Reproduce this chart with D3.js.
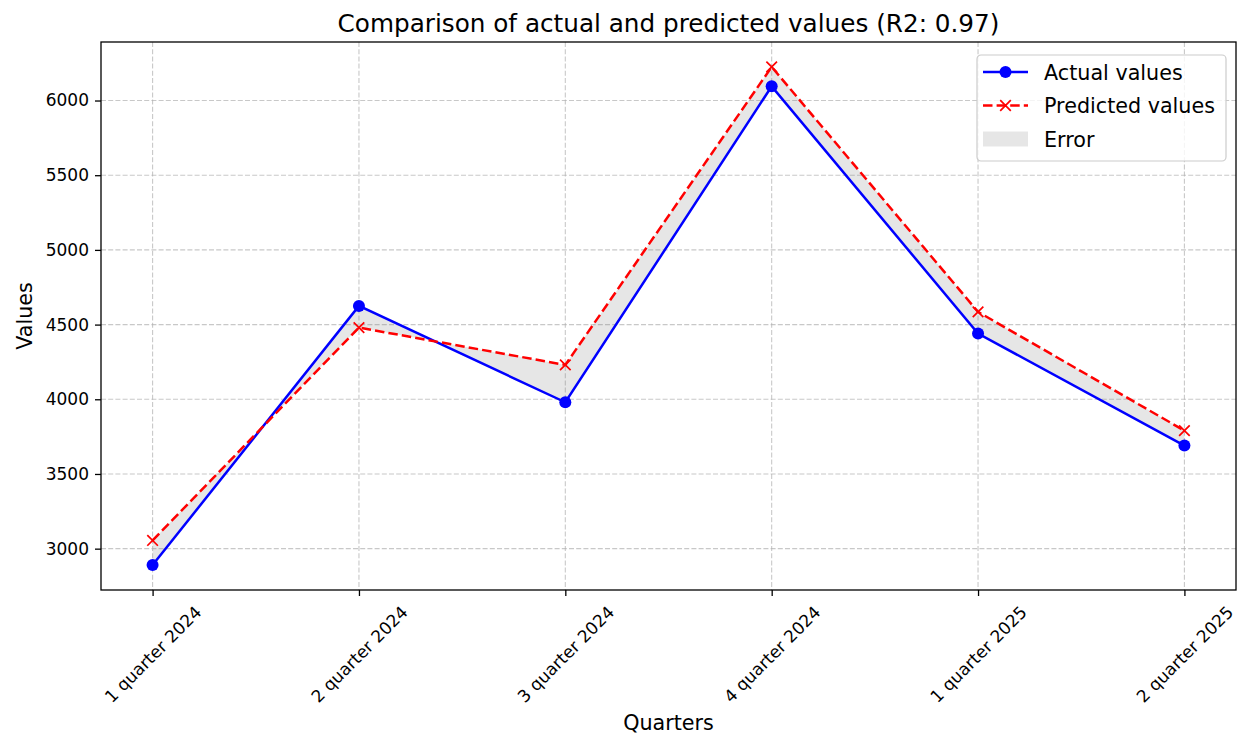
<!DOCTYPE html>
<html>
<head>
<meta charset="utf-8">
<script src="https://cdn.jsdelivr.net/npm/d3@7"></script>
<style>
  body { margin: 0; background: #fff; }
  svg { font-family: "DejaVu Sans", sans-serif; }
</style>
</head>
<body>
<div id="chart"></div>
<script>
const quarters = ['1 quarter 2024', '2 quarter 2024', '3 quarter 2024', '4 quarter 2024', '1 quarter 2025', '2 quarter 2025'];
const actualValues = [2890, 4625, 3980, 6095, 4440, 3690];
const predictedValues = [3055, 4480, 4230, 6225, 4585, 3790];
const yTicks = [3000, 3500, 4000, 4500, 5000, 5500, 6000];

const W = 1241, H = 735;
const margin = { top: 42, right: 5, bottom: 145, left: 101 };
const width = W - margin.left - margin.right,
    height = H - margin.top - margin.bottom;
const FONT = '"DejaVu Sans", sans-serif';

const svg = d3.select('#chart').append('svg')
    .attr('width', W)
    .attr('height', H);

const g = svg.append('g')
    .attr('transform', 'translate(' + margin.left + ',' + margin.top + ')');

// matplotlib style 5% padding on both axes
const n = quarters.length;
const xScale = d3.scaleLinear().domain([-0.25, n - 1 + 0.25]).range([0, width]);
const allVals = actualValues.concat(predictedValues);
const lo = d3.min(allVals), hi = d3.max(allVals), pad = (hi - lo) * 0.05;
const yScale = d3.scaleLinear().domain([lo - pad, hi + pad]).range([height, 0]);

// grid
g.append('g')
    .selectAll('line')
    .data(yTicks)
    .enter().append('line')
    .attr('x1', 0).attr('x2', width)
    .attr('y1', d => yScale(d)).attr('y2', d => yScale(d))
    .attr('stroke', '#b0b0b0').attr('stroke-opacity', 0.7)
    .attr('stroke-dasharray', '5,2.2').attr('stroke-width', 1.1);

g.append('g')
    .selectAll('line')
    .data(d3.range(n))
    .enter().append('line')
    .attr('x1', d => xScale(d)).attr('x2', d => xScale(d))
    .attr('y1', 0).attr('y2', height)
    .attr('stroke', '#b0b0b0').attr('stroke-opacity', 0.7)
    .attr('stroke-dasharray', '5,2.2').attr('stroke-width', 1.1);

// error area
const area = d3.area()
    .x((d, i) => xScale(i))
    .y0((d, i) => yScale(actualValues[i]))
    .y1((d, i) => yScale(predictedValues[i]));

g.append('path')
    .datum(quarters)
    .attr('d', area)
    .attr('fill', '#808080')
    .attr('fill-opacity', 0.2);

const line = d3.line().x((d, i) => xScale(i)).y(d => yScale(d));

// actual
g.append('path')
    .datum(actualValues)
    .attr('d', line)
    .attr('fill', 'none')
    .attr('stroke', 'blue')
    .attr('stroke-width', 2.5);

g.selectAll('.dot')
    .data(actualValues)
    .enter().append('circle')
    .attr('cx', (d, i) => xScale(i))
    .attr('cy', d => yScale(d))
    .attr('r', 6)
    .attr('fill', 'blue');

// predicted
g.append('path')
    .datum(predictedValues)
    .attr('d', line)
    .attr('fill', 'none')
    .attr('stroke', 'red')
    .attr('stroke-width', 2.5)
    .attr('stroke-dasharray', '9.5,4.1');

const cross = 'M-5.3,-5.3L5.3,5.3M-5.3,5.3L5.3,-5.3';
g.selectAll('.cross')
    .data(predictedValues)
    .enter().append('path')
    .attr('d', cross)
    .attr('transform', (d, i) => 'translate(' + xScale(i) + ',' + yScale(d) + ')')
    .attr('stroke', 'red')
    .attr('stroke-width', 1.7)
    .attr('fill', 'none');

// axes
const xAxis = d3.axisBottom(xScale)
    .tickValues(d3.range(n))
    .tickFormat(i => quarters[i])
    .tickSize(6)
    .tickSizeOuter(0);

const xa = g.append('g')
    .attr('transform', 'translate(0,' + height + ')')
    .call(xAxis)
    .attr('font-family', FONT)
    .attr('font-size', 17);
xa.select('.domain').remove();
xa.selectAll('.tick line').attr('stroke-width', 1.3);
// rotated 45deg, bounding box centred under the tick (matplotlib ha=center)
xa.selectAll('text')
    .attr('fill', '#000')
    .attr('text-anchor', 'middle')
    .attr('dy', '0.35em')
    .attr('y', 0)
    .attr('transform', function () {
        const w = this.getComputedTextLength();
        const half = (w + 20) * Math.SQRT1_2 / 2;
        return 'translate(0,' + (12 + half) + ') rotate(-45)';
    });

const yAxis = d3.axisLeft(yScale)
    .tickValues(yTicks)
    .tickFormat(d3.format('d'))
    .tickSize(6)
    .tickSizeOuter(0);

const ya = g.append('g').call(yAxis)
    .attr('font-family', FONT)
    .attr('font-size', 17);
ya.select('.domain').remove();
ya.selectAll('.tick line').attr('stroke-width', 1.3);
ya.selectAll('text').attr('fill', '#000').attr('x', -12);

g.append('rect')
    .attr('width', width).attr('height', height)
    .attr('fill', 'none').attr('stroke', '#000').attr('stroke-width', 1.3);

// titles
svg.append('text')
    .attr('x', margin.left + width / 2).attr('y', 32)
    .attr('text-anchor', 'middle')
    .attr('font-size', 24.7)
    .text('Comparison of actual and predicted values (R2: 0.97)');

svg.append('text')
    .attr('x', margin.left + width / 2).attr('y', 730)
    .attr('text-anchor', 'middle')
    .attr('font-size', 20.7)
    .text('Quarters');

svg.append('text')
    .attr('transform', 'translate(32,' + (margin.top + height / 2) + ') rotate(-90)')
    .attr('text-anchor', 'middle')
    .attr('font-size', 20.7)
    .text('Values');

// legend
const lg = svg.append('g').attr('transform', 'translate(977,55)');
lg.append('rect')
    .attr('width', 249).attr('height', 106).attr('rx', 4)
    .attr('fill', '#fff').attr('fill-opacity', 0.8)
    .attr('stroke', '#cccccc').attr('stroke-width', 1.2);

const items = ['Actual values', 'Predicted values', 'Error'];
items.forEach((t, i) => {
    const y = 17 + i * 33.5;
    if (i === 0) {
        lg.append('line').attr('x1', 6).attr('x2', 51).attr('y1', y).attr('y2', y)
            .attr('stroke', 'blue').attr('stroke-width', 2.5);
        lg.append('circle').attr('cx', 28.5).attr('cy', y).attr('r', 6).attr('fill', 'blue');
    } else if (i === 1) {
        lg.append('line').attr('x1', 6).attr('x2', 51).attr('y1', y).attr('y2', y)
            .attr('stroke', 'red').attr('stroke-width', 2.5).attr('stroke-dasharray', '9.5,4.1');
        lg.append('path').attr('d', cross).attr('transform', 'translate(28.5,' + y + ')')
            .attr('stroke', 'red').attr('stroke-width', 1.7);
    } else {
        lg.append('rect').attr('x', 6).attr('y', y - 7.5).attr('width', 45).attr('height', 15)
            .attr('fill', '#808080').attr('fill-opacity', 0.2);
    }
    lg.append('text').attr('x', 67).attr('y', y + 7.5).attr('font-size', 20.7).text(t);
});
</script>
</body>
</html>
